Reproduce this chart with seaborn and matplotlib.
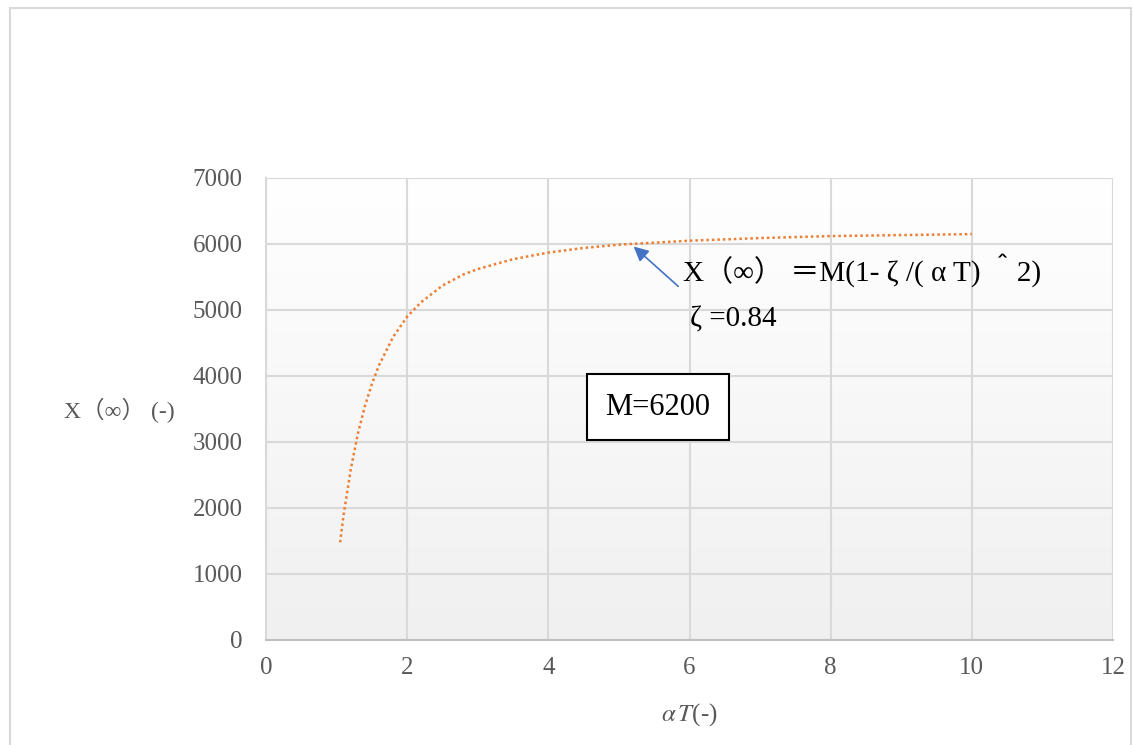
import numpy as np
import pandas as pd
import matplotlib.pyplot as plt
import matplotlib.patches as mpatches
import seaborn as sns

# values
alpha_t = [1.05, 1.1, 1.2, 1.3, 1.4, 1.5, 1.6, 1.8, 2.0, 2.2, 2.5, 2.8,
           3.0, 3.5, 4.0, 4.5, 5.0, 6.0, 7.0, 8.0, 9.0, 10.0]
x_inf = [1480, 1900, 2580, 3120, 3540, 3880, 4160, 4590, 4900, 5120, 5370, 5540,
         5620, 5770, 5870, 5940, 5990, 6050, 6090, 6120, 6135, 6150]

x_ticks = [0, 2, 4, 6, 8, 10, 12]
y_ticks = [0, 1000, 2000, 3000, 4000, 5000, 6000, 7000]

sns.set_theme(style="whitegrid")
plt.rcParams['font.family'] = ['Liberation Serif', 'DejaVu Serif', 'Noto Sans CJK JP']
plt.rcParams['mathtext.fontset'] = 'stix'

df = pd.DataFrame({'aT': alpha_t, 'X': x_inf})

fig = plt.figure(figsize=(11.34, 7.45), dpi=100)
ax = fig.add_axes([266 / 1134, 1 - 640 / 745, (1113 - 266) / 1134, (640 - 178) / 745])

# outer chart border
fig.patches.append(mpatches.Rectangle((10 / 1134, -0.01), 1121 / 1134, 1 - 8 / 745 + 0.01,
                                      transform=fig.transFigure, fill=False,
                                      edgecolor='#d9d9d9', linewidth=1.5))

# plot area gradient (white top -> light grey bottom)
grad = np.linspace(1, 0, 256).reshape(-1, 1)
ax.imshow(grad, extent=[0, 1, 0, 1], transform=ax.transAxes, aspect='auto',
          cmap=plt.matplotlib.colors.LinearSegmentedColormap.from_list('g', ['#f0f0f0', '#ffffff']),
          zorder=0)

sns.lineplot(data=df, x='aT', y='X', ax=ax, color='#ED7D31', linewidth=1.8,
             linestyle=(0, (1, 1.2)), zorder=3)

ax.set_xlim(0, 12)
ax.set_ylim(0, 7000)
ax.set_xticks(x_ticks)
ax.set_yticks(y_ticks)
ax.grid(True, color='#d9d9d9', linewidth=1.5)
ax.set_axisbelow(True)
for s in ['top', 'right']:
    ax.spines[s].set_visible(False)
ax.spines['left'].set_color('#d9d9d9')
ax.spines['bottom'].set_color('#bfbfbf')
ax.spines['left'].set_linewidth(1.5)
ax.spines['bottom'].set_linewidth(1.5)
ax.tick_params(axis='both', colors='#595959', labelsize=18, length=0)
ax.tick_params(axis='y', pad=17)
ax.tick_params(axis='x', pad=12)

ax.set_xlabel('$\\alpha\\,T$(-)', fontsize=18, color='#595959')
ax.xaxis.set_label_coords(0.5, -(715 - 640) / 462)
ax.xaxis.label.set_va('center')
ax.set_ylabel('X（∞） (-)', fontsize=17, color='#595959', rotation=0, ha='right', va='center')
ax.yaxis.set_label_coords(-(266 - 175) / 847, (640 - 410) / 462)

# formula annotation with arrow
ax.annotate('', xy=(5.18, 5990), xytext=(5.87, 5330),
            arrowprops=dict(arrowstyle='-|>', color='#4472C4', lw=1.2, mutation_scale=22))
ax.text(5.91, 5600, 'X（∞） ＝M(1- ζ /( α T) ＾2)', fontsize=21, color='black', va='center')
ax.text(6.0, 4850, 'ζ =0.84', fontsize=21, color='black', va='center')

ax.text(5.55, 3530, 'M=6200', fontsize=22, color='black', ha='center', va='center',
        bbox=dict(boxstyle='square,pad=0.6', facecolor='white', edgecolor='black', linewidth=1.5))

fig.savefig('out.png', dpi=100)
